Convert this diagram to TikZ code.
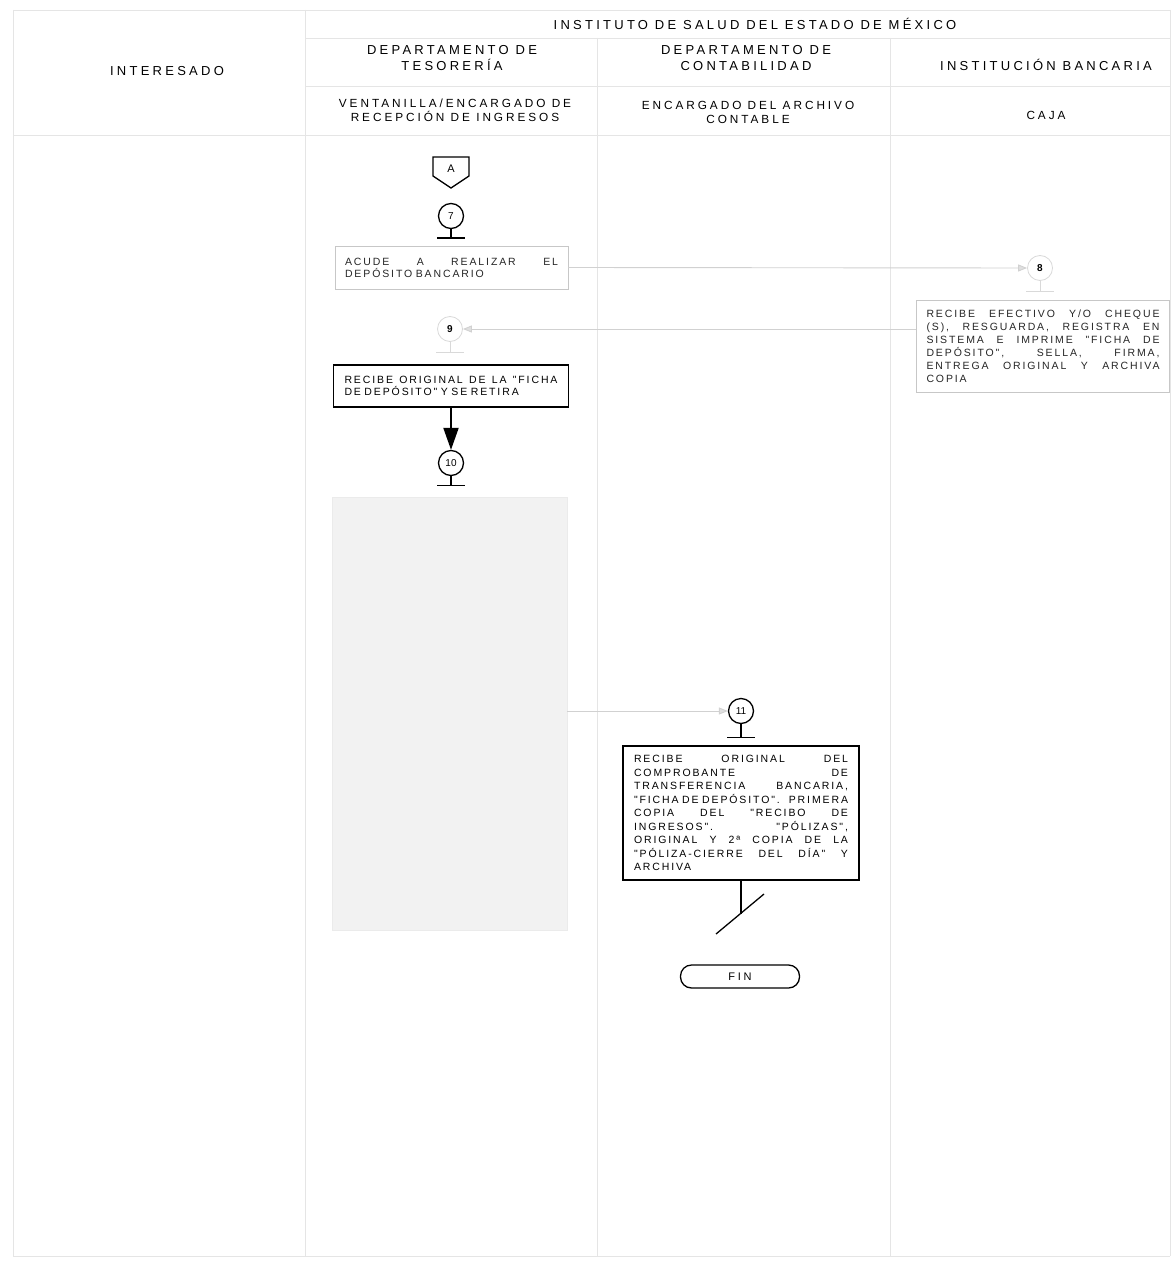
\documentclass[tikz,border=0pt]{standalone}
\usepackage{fontspec}
\setmainfont{Liberation Sans}
\newfontfamily\hdrfont[LetterSpace=25]{Liberation Sans}
\newfontfamily\boxfont[LetterSpace=18]{Liberation Sans}
\usetikzlibrary{arrows.meta,calc}
\newcommand{\jl}[2]{\leavevmode\hbox to #1{#2}\\}
\newcommand{\gp}{\hfill}
\tikzset{
  lane/.style={draw=black!10, line width=0.9pt},
  hdr/.style={font=\hdrfont\fontsize{13}{16}\selectfont, align=center, inner sep=0pt},
  posn/.style={font=\hdrfont\fontsize{11.8}{14}\selectfont, align=center, inner sep=0pt},
  proc/.style={draw, line width=1.6pt, text width=#1, inner xsep=11pt, inner ysep=0pt, align=left},
  fproc/.style={draw=black!22, line width=0.9pt, text=black!85, text width=#1, inner xsep=10pt, inner ysep=0pt, align=left},
  conn/.style={circle, draw, line width=1.3pt, minimum size=25pt, inner sep=0pt, font=\fontsize{10}{11}\selectfont},
  fconn/.style={conn, draw=black!15, line width=0.8pt},
  stem/.style={line width=1.3pt},
  fstem/.style={draw=black!15, line width=0.8pt},
  farrow/.style={draw=black!18, line width=0.9pt, -{Triangle[length=9pt,width=7pt,fill=black!12]}},
  barrow/.style={line width=2pt, -{Triangle[length=22pt,width=15pt]}},
}
\begin{document}
\begin{tikzpicture}[x=1pt,y=-1pt]
\useasboundingbox (0,0) rectangle (1175,1265);
\fill[white] (0,0) rectangle (1175,1265);
% lanes
\draw[lane] (13,10) -- (1170,10);
\draw[lane] (305,38) -- (1170,38);
\draw[lane] (305,86) -- (1170,86);
\draw[lane] (13,135) -- (1170,135);
\draw[lane] (13,1256) -- (1170,1256);
\draw[lane] (13,10) -- (13,1256);
\draw[lane] (305,10) -- (305,1256);
\draw[lane] (597,38) -- (597,1256);
\draw[lane] (890,38) -- (890,1256);
\draw[lane] (1170,10) -- (1170,1256);
% headers
\node[hdr] (hInst) at (755,24) {INSTITUTO DE SALUD DEL ESTADO DE MÉXICO};
\node[hdr] (hInt) at (167,71) {INTERESADO};
\node[hdr] (hTes) at (452,58) {DEPARTAMENTO DE\\TESORERÍA};
\node[hdr] (hCon) at (746,58) {DEPARTAMENTO DE\\CONTABILIDAD};
\node[hdr] (hBan) at (1046,65) {INSTITUCIÓN BANCARIA};
\node[posn] (pVen) at (455,110) {VENTANILLA/ENCARGADO DE\\RECEPCIÓN DE INGRESOS};
\node[posn] (pArc) at (748,112) {ENCARGADO DEL ARCHIVO\\CONTABLE};
\node[posn] (pCaj) at (1046,115) {CAJA};
% off-page connector A
\draw[line width=1.3pt] (433,157) -- (469,157) -- (469,176) -- (451,188) -- (433,176) -- cycle;
\node[inner sep=0pt, font=\fontsize{11}{12}\selectfont] (A) at (451,169) {A};
% 7
\node[conn] (c7) at (451,216) {7};
\draw[stem] (c7.south) -- ++(0,9) coordinate (b7);
\draw[stem] ($(b7)+(-14,0)$) -- ($(b7)+(14,0)$);
% ACUDE box
\node[fproc=213pt, minimum height=43pt, font=\boxfont\fontsize{10.5}{12}\selectfont] (acude) at (451.5,267.5)
  {\jl{213pt}{ACUDE\gp A\gp REALIZAR\gp EL}DEPÓSITO BANCARIO};
% 8
\node[fconn, text=black] (c8) at (1040,268) {\textbf{8}};
\draw[fstem] (c8.south) -- ++(0,10) coordinate (b8);
\draw[fstem] ($(b8)+(-14,0)$) -- ($(b8)+(14,0)$);
\draw[farrow] (acude.east) -- (c8.west);
% EF box
\node[fproc=233pt, minimum height=92pt, font=\boxfont\fontsize{10.5}{13}\selectfont] (ef) at (1043,346)
  {\jl{233pt}{RECIBE\gp EFECTIVO\gp Y/O\gp CHEQUE}\jl{233pt}{(S),\gp RESGUARDA,\gp REGISTRA\gp EN}\jl{233pt}{SISTEMA\gp E\gp IMPRIME\gp "FICHA\gp DE}\jl{233pt}{DEPÓSITO",\gp SELLA,\gp FIRMA,}\jl{233pt}{ENTREGA\gp ORIGINAL\gp Y\gp ARCHIVA}COPIA};
% 9
\node[fconn, text=black] (c9) at (450,329) {\textbf{9}};
\draw[fstem] (c9.south) -- ++(0,10) coordinate (b9);
\draw[fstem] ($(b9)+(-14,0)$) -- ($(b9)+(14,0)$);
\draw[farrow] (ef.west |- c9) -- (c9.east);
% box 9
\node[proc=213pt, minimum height=42pt, font=\boxfont\fontsize{10.5}{12}\selectfont] (b9box) at (451,386)
  {\jl{213pt}{RECIBE\gp ORIGINAL\gp DE\gp LA\gp "FICHA}DE DEPÓSITO" Y SE RETIRA};
% 10
\node[conn] (c10) at (451,463) {10};
\draw[barrow] (b9box.south) -- (c10.north);
\draw[stem] (c10.south) -- ++(0,9) coordinate (b10);
\draw[stem] ($(b10)+(-14,0)$) -- ($(b10)+(14,0)$);
% faded area
\node[draw=black!8, fill=black!5, minimum width=235pt, minimum height=433pt, inner sep=0pt] (fade) at (449.5,713.5) {};
% 11
\node[conn] (c11) at (741,711) {11};
\draw[farrow] (fade.east |- c11) -- (c11.west);
\draw[stem] (c11.south) -- ++(0,13) coordinate (b11);
\draw[stem] ($(b11)+(-14,0)$) -- ($(b11)+(14,0)$);
% box 11
\node[proc=214pt, minimum height=134pt, font=\boxfont\fontsize{10.5}{13.5}\selectfont] (b11box) at (741,813)
  {\jl{214pt}{RECIBE\gp ORIGINAL\gp DEL}\jl{214pt}{COMPROBANTE\gp DE}\jl{214pt}{TRANSFERENCIA\gp BANCARIA,}\jl{214pt}{"FICHA DE DEPÓSITO".\gp PRIMERA}\jl{214pt}{COPIA\gp DEL\gp "RECIBO\gp DE}\jl{214pt}{INGRESOS".\gp "PÓLIZAS",}\jl{214pt}{ORIGINAL\gp Y\gp 2ª\gp COPIA\gp DE\gp LA}\jl{214pt}{"PÓLIZA-CIERRE\gp DEL\gp DÍA"\gp Y}ARCHIVA};
% end
\coordinate (s1) at (716,934);
\coordinate (s2) at (764,894);
\draw[stem] (b11box.south) -- ++(0,33);
\draw[stem] (s1) -- (s2);
\node[draw, line width=1.3pt, rounded corners=11pt, minimum width=119pt, minimum height=23pt, inner sep=0pt, font=\hdrfont\fontsize{11}{12}\selectfont] (fin) at (740,976.5) {FIN};
\end{tikzpicture}
\end{document}
